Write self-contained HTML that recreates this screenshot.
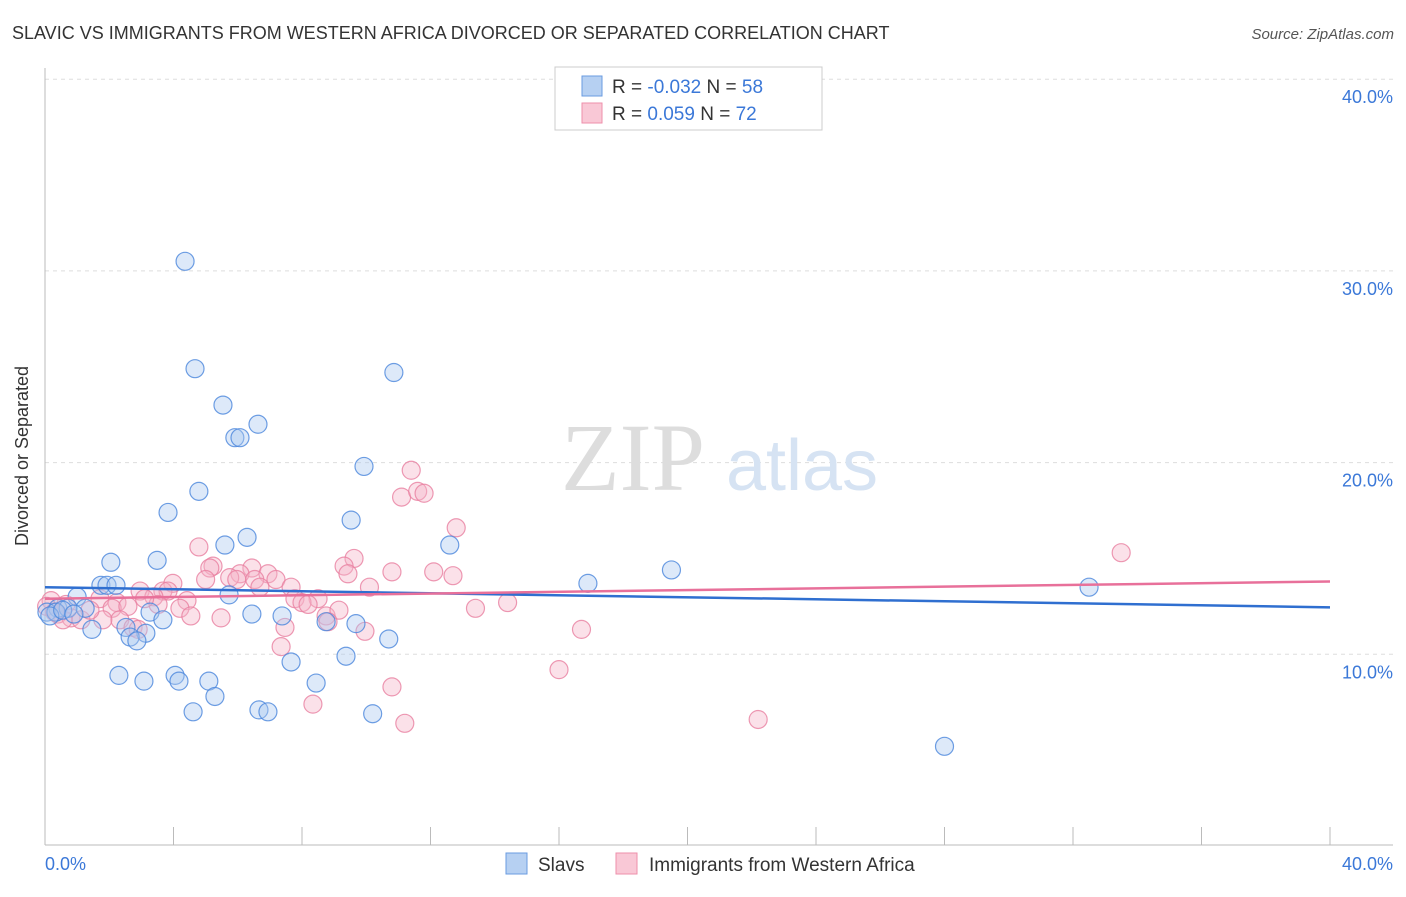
<!DOCTYPE html>
<html><head><meta charset="utf-8"><style>
body{margin:0;background:#fff;font-family:"Liberation Sans",sans-serif}
</style></head><body>
<svg width="1406" height="892" viewBox="0 0 1406 892" xmlns="http://www.w3.org/2000/svg">
<text x="12" y="39" font-size="18" fill="#333">SLAVIC VS IMMIGRANTS FROM WESTERN AFRICA DIVORCED OR SEPARATED CORRELATION CHART</text>
<text x="1394" y="39" font-size="15" fill="#555" font-style="italic" text-anchor="end">Source: ZipAtlas.com</text>
<g id="grid"></g>
<line x1="45" y1="68" x2="45" y2="845" stroke="#bbb"/>
<line x1="45" y1="845" x2="1393" y2="845" stroke="#bbb"/>
<g id="xticks"></g>
<text x="28" y="456" font-size="18" fill="#333" text-anchor="middle" transform="rotate(-90 28 456)">Divorced or Separated</text>
<text x="45" y="870" font-size="18" fill="#3b78d8">0.0%</text>
<text x="1393" y="870" font-size="18" fill="#3b78d8" text-anchor="end">40.0%</text>
<g><text x="633" y="490" font-size="96" fill="#ddd" font-family="Liberation Serif,serif" text-anchor="middle">ZIP</text><text x="802" y="490" font-size="72" fill="#d6e3f3" text-anchor="middle">atlas</text></g>
<g id="pts"></g>
<g id="trends"></g>
<g>
<rect x="555" y="67" width="267" height="63" fill="#fff" stroke="#ccc"/>
<rect x="582" y="76" width="20" height="20" fill="#b6d0f2" stroke="#6a9be0"/>
<rect x="582" y="103" width="20" height="20" fill="#f9c8d6" stroke="#ee8fab"/>
<text x="612" y="93" font-size="19" fill="#333">R = <tspan fill="#3b78d8">-0.032</tspan>   N = <tspan fill="#3b78d8">58</tspan></text>
<text x="612" y="120" font-size="19" fill="#333">R =  <tspan fill="#3b78d8"> 0.059</tspan>   N = <tspan fill="#3b78d8">72</tspan></text>
</g>
<g>
<rect x="506" y="853" width="21" height="21" fill="#b6d0f2" stroke="#6a9be0"/>
<text x="538" y="871" font-size="19" fill="#333">Slavs</text>
<rect x="616" y="853" width="21" height="21" fill="#f9c8d6" stroke="#ee8fab"/>
<text x="649" y="871" font-size="19" fill="#333">Immigrants from Western Africa</text>
</g>
</svg>
<script>
const yTicks=[10,20,30,40];
const yTickLabels=["10.0%","20.0%","30.0%","40.0%"];
const xTicks=[0,4,8,12,16,20,24,28,32,36,40];
const slavX=[4.36,4.67,10.86,5.54,6.63,5.91,6.07,9.93,4.79,3.83,9.53,6.29,5.6,12.6,2.05,3.49,19.5,16.9,32.5,1.74,1.93,2.21,5.73,1.0,0.4,0.72,1.25,0.06,0.34,3.27,7.38,6.44,3.67,8.75,9.68,1.46,2.52,3.14,2.65,2.86,10.7,7.66,9.37,2.3,3.08,4.05,4.17,5.1,8.44,5.29,4.61,6.66,6.94,10.2,28.0,0.15,0.55,0.9];
const slavY=[30.5,24.9,24.7,23.0,22.0,21.3,21.3,19.8,18.5,17.4,17.0,16.1,15.7,15.7,14.8,14.9,14.4,13.7,13.5,13.6,13.6,13.6,13.1,13.0,12.4,12.4,12.4,12.2,12.2,12.2,12.0,12.1,11.8,11.7,11.6,11.3,11.4,11.1,10.9,10.7,10.8,9.6,9.9,8.9,8.6,8.9,8.6,8.6,8.5,7.8,7.0,7.1,7.0,6.9,5.2,12.0,12.3,12.1];
const immX=[11.4,11.1,11.6,11.8,12.8,33.5,4.79,9.62,5.23,5.13,6.44,9.31,10.8,12.1,12.7,6.94,6.07,5.75,5.97,9.43,3.98,5.0,6.53,7.19,6.69,7.66,10.1,2.96,3.67,3.83,3.39,4.42,7.78,8.5,1.71,2.24,0.19,0.65,3.52,14.4,8.0,8.19,13.4,2.09,2.58,4.2,0.4,0.81,2.33,5.48,4.54,8.75,9.15,8.81,1.8,1.12,0.56,2.74,9.96,7.47,16.7,7.35,16.0,10.8,8.34,11.2,22.2,0.05,0.3,1.4,3.1,2.9];
const immY=[19.6,18.2,18.5,18.4,16.6,15.3,15.6,15.0,14.6,14.5,14.5,14.6,14.3,14.3,14.1,14.2,14.2,14.0,13.9,14.2,13.7,13.9,13.9,13.9,13.5,13.5,13.5,13.3,13.3,13.3,13.0,12.8,12.9,12.9,12.9,12.7,12.8,12.6,12.6,12.7,12.7,12.6,12.4,12.4,12.5,12.4,12.1,11.9,11.8,11.9,12.0,12.0,12.3,11.7,11.8,11.8,11.8,11.4,11.2,11.4,11.3,10.4,9.2,8.3,7.4,6.4,6.6,12.5,12.2,12.3,12.9,11.3];
const slavTrend=[13.5,12.45];
const immTrend=[12.9,13.8];
const NS="http://www.w3.org/2000/svg";
const xs=v=>45+v/40*1285;
const ys=v=>846-v*19.17;
function mk(t,a,p){const e=document.createElementNS(NS,t);for(const k in a)e.setAttribute(k,a[k]);p.appendChild(e);return e;}
const grid=document.getElementById('grid');
yTicks.forEach((t,i)=>{
 const l=mk('line',{x1:45,x2:1393,y1:ys(t),y2:ys(t),stroke:'#ddd','stroke-dasharray':'4,4'},grid);
 
 
 const tx=mk('text',{x:1393,y:ys(t)+24,'font-size':18,fill:'#3b78d8','text-anchor':'end'},grid);
 tx.textContent=yTickLabels[i];
 
 
});
const xt=document.getElementById('xticks');
xTicks.forEach(t=>{
 const l=mk('line',{x1:xs(t),x2:xs(t),y1:827,y2:845,stroke:'#bbb'},xt);
 
 
});
const pts=document.getElementById('pts');
function series(X,Y,fill,stroke,name){
 X.forEach((x,i)=>{
  const c=mk('circle',{cx:xs(x),cy:ys(Y[i]),r:9,fill:fill,'fill-opacity':0.4,stroke:stroke,'stroke-width':1.2,'stroke-opacity':0.8},pts);
  
  
 });
}
series(immX,immY,'#f6b3c8','#e87fa0','point-immigrants');
series(slavX,slavY,'#a9c8f0','#4a86dc','point-slavs');
const tr=document.getElementById('trends');
const l1=mk('line',{x1:xs(0),y1:ys(slavTrend[0]),x2:xs(40),y2:ys(slavTrend[1]),stroke:'#2f6fd0','stroke-width':2.5},tr);


const l2=mk('line',{x1:xs(0),y1:ys(immTrend[0]),x2:xs(40),y2:ys(immTrend[1]),stroke:'#e8709a','stroke-width':2.5},tr);


</script>
</body></html>
